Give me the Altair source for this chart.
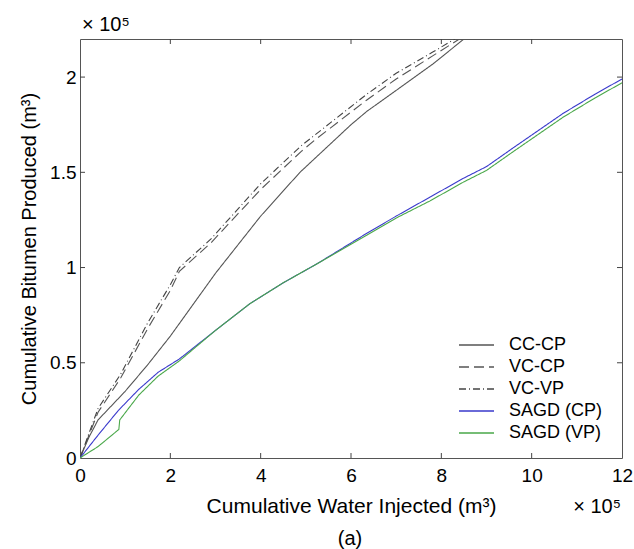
import altair as alt
import pandas as pd

# ---- data ----
cc_cp_x = [0, 0.2, 0.4, 1.0, 1.5, 2.0, 3.0, 4.0, 4.87, 6.0, 6.35, 7.0, 7.82, 8.5]
cc_cp_y = [0, 0.11, 0.20, 0.35, 0.49, 0.64, 0.97, 1.27, 1.50, 1.75, 1.82, 1.93, 2.07, 2.2]

vc_cp_x = [0, 0.4, 0.9, 1.5, 2.0, 2.2, 2.9, 4.0, 4.9, 5.2, 6.35, 7.0, 7.8, 8.4]
vc_cp_y = [0, 0.24, 0.42, 0.68, 0.88, 0.98, 1.13, 1.41, 1.61, 1.67, 1.88, 1.99, 2.11, 2.2]

vc_vp_x = [0, 0.4, 0.9, 1.5, 2.0, 2.2, 2.9, 4.0, 4.9, 6.35, 7.0, 7.8, 8.3]
vc_vp_y = [0, 0.26, 0.44, 0.71, 0.91, 1.0, 1.15, 1.44, 1.64, 1.91, 2.02, 2.13, 2.2]

sagd_cp_x = [0, 0.2, 0.4, 0.85, 1.3, 1.73, 2.2, 3.0, 3.76, 4.5, 5.25, 6.35, 7.0, 7.75, 8.5, 9.0, 9.6, 10.7, 11.4, 12.0]
sagd_cp_y = [0, 0.06, 0.12, 0.25, 0.36, 0.45, 0.52, 0.67, 0.81, 0.92, 1.02, 1.18, 1.27, 1.37, 1.47, 1.53, 1.63, 1.81, 1.91, 1.99]

sagd_vp_x = [0, 0.2, 0.4, 0.86, 0.88, 1.3, 1.73, 2.2, 3.0, 3.76, 4.5, 5.25, 6.35, 7.0, 7.75, 8.5, 9.0, 9.6, 10.7, 11.4, 12.0]
sagd_vp_y = [0, 0.03, 0.06, 0.15, 0.20, 0.33, 0.43, 0.51, 0.67, 0.81, 0.92, 1.02, 1.17, 1.26, 1.35, 1.45, 1.51, 1.61, 1.79, 1.89, 1.97]

series_names = ["CC-CP", "VC-CP", "VC-VP", "SAGD (CP)", "SAGD (VP)"]
series_colors = ["#555555", "#555555", "#444444", "#3a3acc", "#4aa84a"]
series_dash = [[1, 0], [10, 5], [7, 3, 1, 3], [1, 0], [1, 0]]

x_ticks = [0, 2, 4, 6, 8, 10, 12]
y_ticks = [0, 0.5, 1, 1.5, 2]
inner_x_ticks = [2, 4, 6, 8, 10]
inner_y_ticks = [0.5, 1, 1.5, 2]

# ---- build table ----
rows = []
for name, xs, ys in zip(series_names,
                        [cc_cp_x, vc_cp_x, vc_vp_x, sagd_cp_x, sagd_vp_x],
                        [cc_cp_y, vc_cp_y, vc_vp_y, sagd_cp_y, sagd_vp_y]):
    for i, (a, b) in enumerate(zip(xs, ys)):
        rows.append({"series": name, "x": a, "y": b, "order": i})
df = pd.DataFrame(rows)

W, H = 542, 419
FONT = "Liberation Sans"

xscale = alt.Scale(domain=[0, 12], nice=False, zero=False)
yscale = alt.Scale(domain=[0, 2.2], nice=False, zero=False)

lines = alt.Chart(df).mark_line(strokeWidth=1.1, clip=True).encode(
    x=alt.X("x:Q", scale=xscale,
            axis=alt.Axis(values=x_ticks, title="Cumulative Water Injected (m³)",
                          labelFontSize=19, titleFontSize=21, labelFont=FONT, titleFont=FONT,
                          labelColor="black", titleColor="black", titleFontWeight="normal",
                          ticks=False, domain=False, grid=False, labelPadding=8,
                          titlePadding=10, labelFlush=False)),
    y=alt.Y("y:Q", scale=yscale,
            axis=alt.Axis(values=y_ticks, title="Cumulative Bitumen Produced (m³)",
                          labelFontSize=19, titleFontSize=20, labelFont=FONT, titleFont=FONT,
                          labelColor="black", titleColor="black", titleFontWeight="normal",
                          ticks=False, domain=False, grid=False, labelPadding=4,
                          titlePadding=10, labelFlush=False, format="~g")),
    color=alt.Color("series:N", scale=alt.Scale(domain=series_names, range=series_colors),
                    legend=alt.Legend(title=None, orient="none", legendX=378, legendY=295,
                                      symbolType="stroke", symbolSize=1225, symbolStrokeWidth=1.5,
                                      labelFontSize=18, labelFont=FONT, labelColor="black",
                                      clipHeight=22, rowPadding=0, labelOffset=14)),
    strokeDash=alt.StrokeDash("series:N", scale=alt.Scale(domain=series_names, range=series_dash),
                              legend=None),
    order="order:Q",
)

tick_color = "#444444"
xt = pd.DataFrame({"xt": inner_x_ticks})
yt = pd.DataFrame({"yt": inner_y_ticks})
bottom_ticks = alt.Chart(xt).mark_rule(color=tick_color, strokeWidth=1).encode(
    x=alt.X("xt:Q", scale=xscale), y=alt.value(H), y2=alt.value(H - 5))
top_ticks = alt.Chart(xt).mark_rule(color=tick_color, strokeWidth=1).encode(
    x=alt.X("xt:Q", scale=xscale), y=alt.value(0), y2=alt.value(5))
left_ticks = alt.Chart(yt).mark_rule(color=tick_color, strokeWidth=1).encode(
    y=alt.Y("yt:Q", scale=yscale), x=alt.value(0), x2=alt.value(5))
right_ticks = alt.Chart(yt).mark_rule(color=tick_color, strokeWidth=1).encode(
    y=alt.Y("yt:Q", scale=yscale), x=alt.value(W - 5), x2=alt.value(W))

exp_top = alt.Chart(pd.DataFrame({"t": ["× 10⁵"]})).mark_text(
    fontSize=20, font=FONT, align="left", baseline="middle", color="black").encode(
    text="t:N", x=alt.value(2), y=alt.value(-14))
exp_bottom = alt.Chart(pd.DataFrame({"t": ["× 10⁵"]})).mark_text(
    fontSize=20, font=FONT, align="right", baseline="middle", color="black").encode(
    text="t:N", x=alt.value(W - 1), y=alt.value(H + 49))
caption = alt.Chart(pd.DataFrame({"t": ["(a)"]})).mark_text(
    fontSize=20, font=FONT, align="center", baseline="middle", color="black").encode(
    text="t:N", x=alt.value(W / 2 - 1), y=alt.value(H + 81))

chart = alt.layer(lines, bottom_ticks, top_ticks, left_ticks, right_ticks,
                  exp_top, exp_bottom, caption).properties(
    width=W, height=H,
    autosize=alt.AutoSizeParams(type="none"),
    padding={"left": 80, "top": 39, "right": 12, "bottom": 91},
    background="white",
).configure_view(stroke="#555555", strokeWidth=1)

chart.save("out.html", embed_options={"renderer": "svg", "actions": False})
